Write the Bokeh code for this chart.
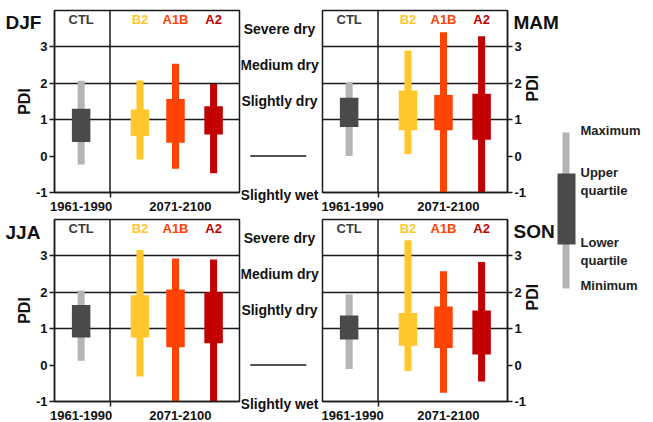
import math
from bokeh.plotting import figure
from bokeh.models import Range1d, FixedTicker, Span, GridBox
from bokeh.layouts import row, column
from bokeh.core.properties import value
from bokeh.embed import file_html
from bokeh.resources import INLINE

# ---------------- data ----------------
seasons = ["DJF", "MAM", "JJA", "SON"]
scenarios = ["CTL", "B2", "A1B", "A2"]
period_labels = ["1961-1990", "2071-2100"]
y_ticks = [-1, 0, 1, 2, 3]
class_labels = ["Severe dry", "Medium dry", "Slightly dry", "Slightly wet"]
class_pos = [3.5, 2.5, 1.5, -1.08]
legend_labels = ["Maximum", "Upper", "quartile", "Lower", "quartile", "Minimum"]

djf_max = [2.07, 2.08, 2.54, 1.98]
djf_q3 = [1.30, 1.28, 1.57, 1.37]
djf_q1 = [0.39, 0.55, 0.37, 0.59]
djf_min = [-0.23, -0.09, -0.35, -0.47]

mam_max = [2.02, 2.90, 3.40, 3.29]
mam_q3 = [1.60, 1.80, 1.68, 1.71]
mam_q1 = [0.80, 0.71, 0.71, 0.45]
mam_min = [0.00, 0.06, -1.05, -1.05]

jja_max = [2.05, 3.16, 2.93, 2.90]
jja_q3 = [1.65, 1.92, 2.08, 2.00]
jja_q1 = [0.76, 0.76, 0.49, 0.60]
jja_min = [0.12, -0.31, -1.15, -1.01]

son_max = [1.94, 3.43, 2.58, 2.83]
son_q3 = [1.36, 1.43, 1.61, 1.50]
son_q1 = [0.70, 0.53, 0.47, 0.29]
son_min = [-0.11, -0.16, -0.76, -0.45]

# ---------------- style ----------------
FONT = "Liberation Sans"
DARK = "#1a1a1a"
xs = [0.72, 2.31, 3.27, 4.30]
whisker_colors = ["#b4b4b4", "#ffc72c", "#ff4300", "#c20000"]
box_colors = ["#4a4a4a", "#ffc72c", "#ff4300", "#c20000"]
label_colors = ["#3c3c3c", "#ffc72c", "#ff4300", "#c20000"]


def panel(mx, q3, q1, mn, side, top, bottom):
    left = side == "left"
    p = figure(frame_width=185, frame_height=182,
               x_range=Range1d(0, 5), y_range=Range1d(-1, 4),
               toolbar_location=None, output_backend="svg",
               y_axis_location=side,
               min_border_left=54 if left else 1,
               min_border_right=2 if left else 48,
               min_border_top=top, min_border_bottom=bottom)
    p.xgrid.visible = False
    p.ygrid.ticker = FixedTicker(ticks=[1, 2, 3])
    p.ygrid.grid_line_color = DARK
    p.ygrid.grid_line_width = 1.5
    p.outline_line_color = DARK
    p.outline_line_width = 1.5

    p.add_layout(Span(location=1.5, dimension="height",
                      line_color=DARK, line_width=1.5))

    p.vbar(x=xs, top=mx, bottom=mn, width=0.19,
           fill_color=whisker_colors, line_color=None)
    p.vbar(x=xs, top=q3, bottom=q1, width=0.5,
           fill_color=box_colors, line_color=None)

    p.text(x=xs, y=[3.75] * 4, text=scenarios, text_color=label_colors,
           text_font=value(FONT), text_font_style="bold",
           text_font_size="13px", text_align="center",
           text_baseline="middle")

    xa = p.xaxis[0]
    xa.ticker = FixedTicker(ticks=[0.72, 3.4], minor_ticks=[1.5])
    xa.major_label_overrides = {0.72: period_labels[0], 3.4: period_labels[1]}
    xa.major_tick_out = 0
    xa.major_tick_in = 0
    xa.minor_tick_out = 5
    xa.minor_tick_in = 0
    xa.minor_tick_line_color = DARK
    xa.minor_tick_line_width = 1.5
    xa.axis_line_color = DARK
    xa.axis_line_width = 1.5
    xa.major_label_standoff = 4
    xa.major_label_text_font = FONT
    xa.major_label_text_font_style = "bold"
    xa.major_label_text_font_size = "13px"
    xa.major_label_text_color = "#111111"

    ya = p.yaxis[0]
    ya.ticker = FixedTicker(ticks=y_ticks)
    ya.major_label_overrides = {t: str(t) for t in y_ticks}
    ya.major_tick_out = 5
    ya.major_tick_in = 0
    ya.major_tick_line_color = DARK
    ya.major_tick_line_width = 1.5
    ya.axis_line_color = DARK
    ya.axis_line_width = 1.5
    ya.major_label_standoff = 2
    ya.major_label_text_font = FONT
    ya.major_label_text_font_style = "bold"
    ya.major_label_text_font_size = "13px"
    ya.major_label_text_color = "#111111"
    ya.axis_label = "PDI"
    ya.axis_label_standoff = 0 if left else 3
    ya.axis_label_text_font = FONT
    ya.axis_label_text_font_style = "bold"
    ya.axis_label_text_font_size = "16px"
    ya.axis_label_text_color = "#111111"
    if not left:
        ya.axis_label_orientation = math.pi / 2
    return p


def middle(top, bottom):
    m = figure(frame_width=80, frame_height=200,
               x_range=Range1d(0, 1), y_range=Range1d(-1.5, 4),
               toolbar_location=None, output_backend="svg",
               x_axis_location=None, y_axis_location=None,
               min_border_left=0, min_border_right=0,
               min_border_top=top, min_border_bottom=bottom)
    m.grid.visible = False
    m.outline_line_color = None
    m.text(x=[0.475] * 4, y=class_pos, text=class_labels,
           text_font=value(FONT), text_font_style="bold",
           text_font_size="14px", text_color="#111111",
           text_align="center", text_baseline="middle")
    m.line(x=[0.11, 0.81], y=[0, 0], line_color=DARK, line_width=1.5)
    return m


def legend_fig():
    g = figure(frame_width=95, frame_height=418,
               x_range=Range1d(0, 95), y_range=Range1d(418, 0),
               toolbar_location=None, output_backend="svg",
               x_axis_location=None, y_axis_location=None,
               min_border_left=0, min_border_right=0,
               min_border_top=0, min_border_bottom=0)
    g.grid.visible = False
    g.outline_line_color = None
    g.vbar(x=[10.5], top=[132], bottom=[288], width=7,
           fill_color="#b4b4b4", line_color=None)
    g.vbar(x=[11], top=[173], bottom=[244], width=18,
           fill_color="#4a4a4a", line_color=None)
    g.text(x=[25] * 6, y=[130, 172, 190, 242, 260, 285],
           text=legend_labels,
           text_font=value(FONT), text_font_style="bold",
           text_font_size="13px", text_color="#222222",
           text_align="left", text_baseline="middle")
    return g


def season_overlay():
    o = figure(frame_width=650, frame_height=418,
               x_range=Range1d(0, 650), y_range=Range1d(418, 0),
               toolbar_location=None, output_backend="svg",
               x_axis_location=None, y_axis_location=None,
               min_border_left=0, min_border_right=0,
               min_border_top=0, min_border_bottom=0,
               border_fill_color=None, background_fill_color=None)
    o.grid.visible = False
    o.outline_line_color = None
    o.text(x=[5, 513, 5, 513], y=[22, 22, 232, 231], text=seasons,
           text_font=value(FONT), text_font_style="bold",
           text_font_size="19px", text_color="#111111",
           text_align="left", text_baseline="middle")
    return o


p1 = panel(djf_max, djf_q3, djf_q1, djf_min, "left", 10, 18)
p2 = panel(mam_max, mam_q3, mam_q1, mam_min, "right", 10, 18)
p3 = panel(jja_max, jja_q3, jja_q1, jja_min, "left", 6, 20)
p4 = panel(son_max, son_q3, son_q1, son_min, "right", 6, 20)

main = row(column(row(p1, middle(10, 0), p2),
                  row(p3, middle(6, 2), p4)),
           legend_fig())

root = GridBox(children=[(main, 0, 0), (season_overlay(), 0, 0)])

open("out.html", "w").write(file_html(root, INLINE))
